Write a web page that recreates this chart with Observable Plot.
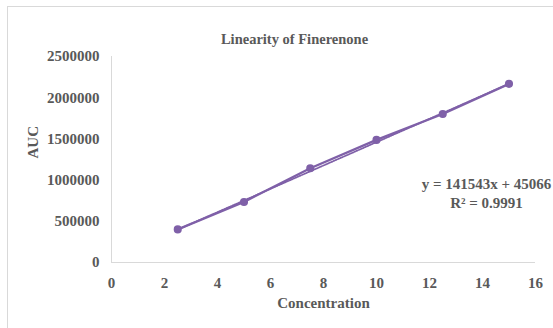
<!DOCTYPE html>
<html>
<head>
<meta charset="utf-8">
<script src="https://cdn.jsdelivr.net/npm/d3@7"></script>
<script src="https://cdn.jsdelivr.net/npm/@observablehq/plot@0.6"></script>
<style>
  html, body { margin: 0; padding: 0; background: #fff; }
  #wrap { position: relative; width: 553px; height: 328px; overflow: hidden; }
  #border { position: absolute; left: 7px; top: 6px; width: 560px; height: 340px; border: 1px solid #d9d9d9; box-sizing: border-box; }
  #chart { position: absolute; left: 0; top: 0; }
  #chart svg, #chart svg text { font-family: "Liberation Serif", "Times New Roman", serif !important; font-weight: bold; }
</style>
</head>
<body>
<div id="wrap"><div id="border"></div><div id="chart"></div></div>
<script>
const concentration = [2.5, 5, 7.5, 10, 12.5, 15];
const auc = [402000, 735000, 1143000, 1488000, 1803000, 2168000];
const slope = 141543;
const intercept = 45066;
const xTicks = [0, 2, 4, 6, 8, 10, 12, 14, 16];
const yTicks = [0, 500000, 1000000, 1500000, 2000000, 2500000];
const title = "Linearity of Finerenone";
const xLabel = "Concentration";
const yLabel = "AUC";
const equation = ["y = 141543x + 45066", "R² = 0.9991"];

const data = concentration.map((c, i) => ({x: c, y: auc[i]}));
const xMin = d3.min(concentration), xMax = d3.max(concentration);
const trend = [xMin, xMax].map(x => ({x, y: slope * x + intercept}));

const purple = "#7f60a8";
const txt = "#595959";
const font = "Liberation Serif";

const chart = Plot.plot({
  width: 553,
  height: 328,
  marginLeft: 111,
  marginRight: 18,
  marginTop: 56,
  marginBottom: 66,
  style: {fontFamily: font, fontWeight: "bold", fontSize: "15px", color: txt, background: "transparent"},
  x: {domain: [0, 16], ticks: xTicks, tickFormat: d => String(d)},
  y: {domain: [0, 2500000], ticks: yTicks, tickFormat: d => String(d)},
  marks: [
    Plot.ruleX([0], {stroke: "#d9d9d9", strokeWidth: 1}),
    Plot.ruleY([0], {stroke: "#d9d9d9", strokeWidth: 1}),
    Plot.axisX({ticks: xTicks, tickFormat: d => String(d), tickSize: 0, tickPadding: 15, fill: txt, fontSize: 15, fontWeight: "bold", fontFamily: font, label: null}),
    Plot.axisY({ticks: yTicks, tickFormat: d => String(d), tickSize: 0, tickPadding: 12, fill: txt, fontSize: 15, fontWeight: "bold", fontFamily: font, label: null}),
    Plot.line(trend, {x: "x", y: "y", stroke: purple, strokeWidth: 1.75, strokeDasharray: "1,1.3"}),
    Plot.line(data, {x: "x", y: "y", stroke: purple, strokeWidth: 2.25}),
    Plot.dot(data, {x: "x", y: "y", r: 3.3, fill: purple, stroke: purple}),
    Plot.text([title], {frameAnchor: "top", dx: -29, dy: -23, text: d => d, fill: txt, fontSize: 14.5, fontWeight: "bold", fontFamily: font}),
    Plot.text([xLabel], {frameAnchor: "bottom", dy: 45, text: d => d, fill: txt, fontSize: 15, fontWeight: "bold", fontFamily: font}),
    Plot.text([yLabel], {frameAnchor: "left", dx: -78, dy: -1, rotate: -90, text: d => d, fill: txt, fontSize: 15, fontWeight: "bold", fontFamily: font}),
    Plot.text([equation[0]], {frameAnchor: "right", dx: -49, dy: 25, textAnchor: "middle", text: d => d, fill: txt, fontSize: 15, fontWeight: "bold", fontFamily: font}),
    Plot.text([equation[1]], {frameAnchor: "right", dx: -49, dy: 44, textAnchor: "middle", text: d => d, fill: txt, fontSize: 15, fontWeight: "bold", fontFamily: font})
  ]
});
document.getElementById("chart").appendChild(chart);
</script>
</body>
</html>
